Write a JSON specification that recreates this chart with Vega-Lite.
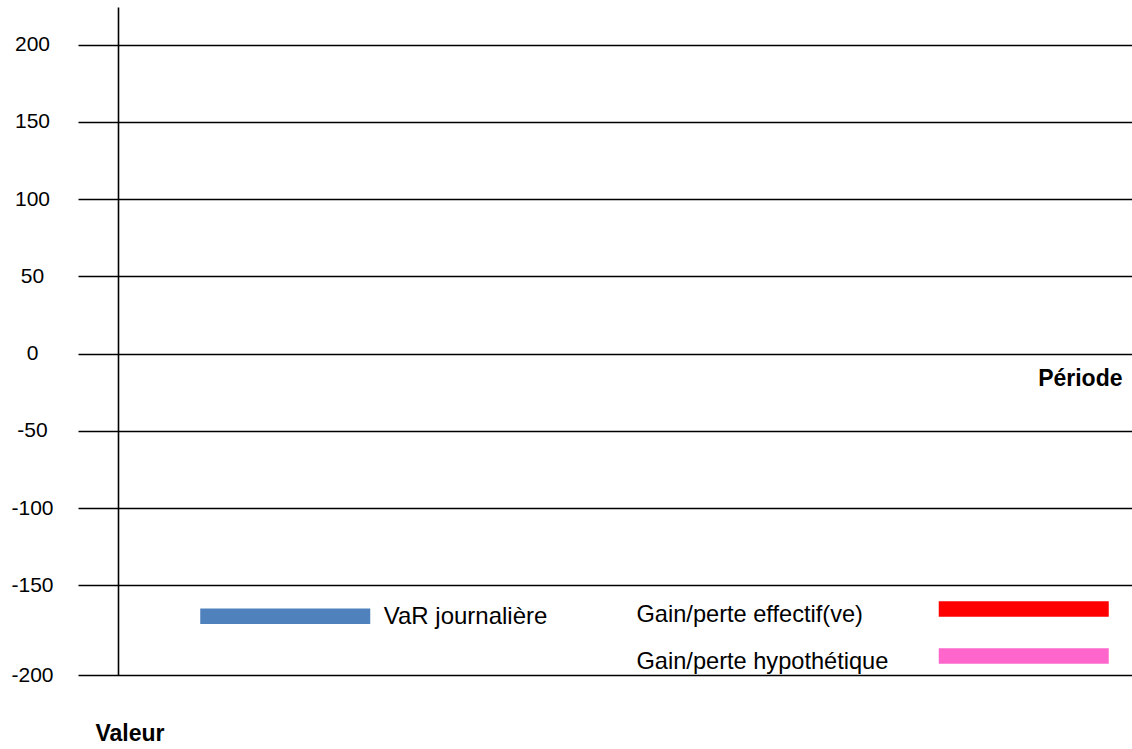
{
  "$schema": "https://vega.github.io/schema/vega-lite/v6.json",
  "width": 1054,
  "height": 668,
  "autosize": {"type": "none"},
  "padding": {"left": 78, "right": 0, "top": 7, "bottom": 74},
  "background": "white",
  "config": {"view": {"stroke": null}, "font": "Liberation Sans"},
  "data": {"values": [
    {"serie": "VaR journalière", "periode": null, "valeur": null},
    {"serie": "Gain/perte effectif(ve)", "periode": null, "valeur": null},
    {"serie": "Gain/perte hypothétique", "periode": null, "valeur": null}
  ]},
  "encoding": {
    "x": {
      "field": "periode", "type": "quantitative",
      "scale": {"domain": [0, 1]},
      "axis": {
        "title": "Période", "domain": false, "ticks": false, "labels": false, "grid": false,
        "titleFont": "Liberation Sans", "titleFontSize": 23, "titleFontWeight": "bold", "titleColor": "black",
        "titleAlign": "right", "titleX": 1044, "titleY": -296.5, "titleBaseline": "middle"
      }
    },
    "y": {
      "field": "valeur", "type": "quantitative",
      "scale": {"domain": [-200, -150, 224.3], "range": [668, 578.25, 0], "nice": false, "zero": false},
      "axis": {
        "title": "Valeur", "titleAngle": 0, "titleAlign": "left", "titleBaseline": "middle",
        "titleX": -23, "titleY": 726.5,
        "titleFont": "Liberation Sans", "titleFontSize": 23, "titleFontWeight": "bold", "titleColor": "black",
        "offset": -40,
        "values": [-200, -150, -100, -50, 0, 50, 100, 150, 200],
        "labelExpr": "'' + datum.value",
        "domainColor": "black", "domainWidth": 1.6,
        "ticks": false, "tickSize": 0,
        "labelPadding": 86, "labelAlign": "center", "labelBaseline": "middle",
        "labelFontSize": 21, "labelColor": "black", "labelFont": "Liberation Sans",
        "labelOverlap": false, "labelBound": false,
        "grid": true, "gridColor": "black", "gridWidth": 1.6
      }
    }
  },
  "layer": [
    {
      "transform": [{"filter": {"field": "serie", "equal": "VaR journalière"}}],
      "mark": {"type": "line"},
      "encoding": {
        "color": {
          "field": "serie", "type": "nominal",
          "scale": {"domain": ["VaR journalière"], "range": ["#4f81bd"]},
          "legend": {
            "title": null, "orient": "none", "legendX": 114.25, "legendY": 516.25,
            "symbolType": "stroke", "symbolSize": 28900, "symbolStrokeWidth": 15.5,
            "labelOffset": 5.5,
            "labelFontSize": 24, "labelFont": "Liberation Sans", "labelColor": "black",
            "labelLimit": 400, "padding": 0,
            "encode": {"labels": {"update": {"dy": {"value": 1}}}}
          }
        }
      }
    },
    {
      "transform": [{"filter": {"field": "serie", "equal": "Gain/perte effectif(ve)"}}],
      "mark": {"type": "line"},
      "encoding": {
        "color": {
          "field": "serie", "type": "nominal",
          "scale": {"domain": ["Gain/perte effectif(ve)"], "range": ["#ff0000"]},
          "legend": {
            "title": null, "orient": "none", "legendX": 852.75, "legendY": 509,
            "symbolType": "stroke", "symbolSize": 28900, "symbolStrokeWidth": 15.5,
            "labelOffset": -480.25, "labelAlign": "left",
            "labelFontSize": 23.6, "labelFont": "Liberation Sans", "labelColor": "black",
            "labelLimit": 400, "padding": 0,
            "encode": {"labels": {"update": {"dy": {"value": 5.8}}}}
          }
        }
      }
    },
    {
      "transform": [{"filter": {"field": "serie", "equal": "Gain/perte hypothétique"}}],
      "mark": {"type": "line"},
      "encoding": {
        "color": {
          "field": "serie", "type": "nominal",
          "scale": {"domain": ["Gain/perte hypothétique"], "range": ["#ff66cc"]},
          "legend": {
            "title": null, "orient": "none", "legendX": 852.75, "legendY": 556,
            "symbolType": "stroke", "symbolSize": 28900, "symbolStrokeWidth": 15.5,
            "labelOffset": -480.25, "labelAlign": "left",
            "labelFontSize": 23.6, "labelFont": "Liberation Sans", "labelColor": "black",
            "labelLimit": 400, "padding": 0,
            "encode": {"labels": {"update": {"dy": {"value": 6.3}}}}
          }
        }
      }
    }
  ],
  "resolve": {"scale": {"color": "independent"}, "legend": {"color": "independent"}}
}
